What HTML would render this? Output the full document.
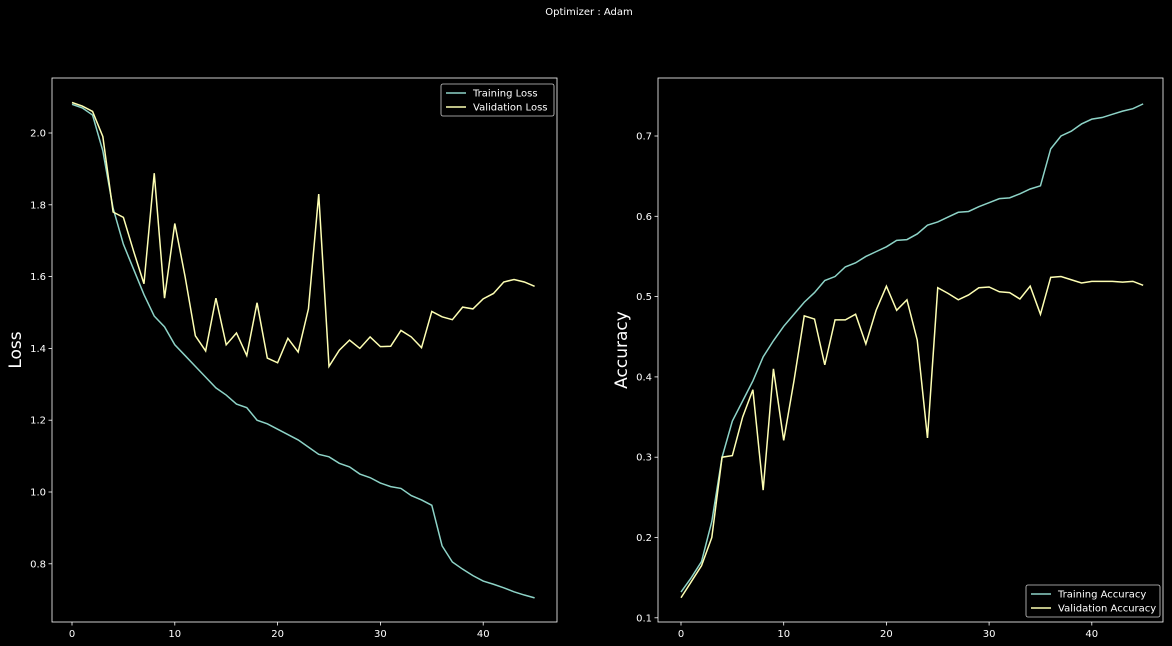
<!DOCTYPE html>
<html><head><meta charset="utf-8"><style>
html,body{margin:0;padding:0;background:#000;}
svg{display:block;font-family:"DejaVu Sans","Liberation Sans",sans-serif;}
</style></head><body>
<svg id="fig" width="1172" height="646" xmlns="http://www.w3.org/2000/svg">
<rect width="1172" height="646" fill="#000"/>
<text x="589" y="15" fill="#fff" font-size="10" text-anchor="middle">Optimizer : Adam</text>
<g id="left"></g>
<g id="right"></g>
</svg>
<script>
const epochs = Array.from({length:46},(_,i)=>i);
const trainLoss = [2.08,2.07,2.05,1.95,1.79,1.69,1.62,1.55,1.49,1.46,1.41,1.38,1.35,1.32,1.29,1.27,1.245,1.235,1.20,1.19,1.175,1.16,1.145,1.125,1.105,1.098,1.08,1.07,1.05,1.04,1.025,1.015,1.01,0.99,0.978,0.963,0.85,0.805,0.785,0.767,0.752,0.743,0.733,0.722,0.713,0.705];
const valLoss = [2.085,2.075,2.06,1.99,1.78,1.765,1.67,1.58,1.888,1.54,1.748,1.60,1.435,1.393,1.54,1.41,1.443,1.38,1.527,1.373,1.36,1.428,1.39,1.51,1.83,1.35,1.395,1.423,1.40,1.432,1.405,1.406,1.45,1.432,1.402,1.503,1.488,1.48,1.515,1.51,1.538,1.553,1.585,1.592,1.585,1.573];
const trainAcc = [0.132,0.15,0.17,0.22,0.30,0.345,0.37,0.395,0.425,0.445,0.463,0.478,0.493,0.505,0.52,0.525,0.537,0.542,0.55,0.556,0.562,0.57,0.571,0.578,0.589,0.593,0.599,0.605,0.606,0.612,0.617,0.622,0.623,0.628,0.634,0.638,0.684,0.70,0.706,0.715,0.721,0.723,0.727,0.731,0.734,0.74];
const valAcc = [0.125,0.145,0.165,0.2,0.30,0.302,0.35,0.384,0.259,0.41,0.321,0.395,0.476,0.472,0.415,0.471,0.471,0.478,0.441,0.483,0.513,0.483,0.496,0.446,0.324,0.511,0.504,0.496,0.502,0.511,0.512,0.506,0.505,0.497,0.513,0.478,0.524,0.525,0.521,0.517,0.519,0.519,0.519,0.518,0.519,0.514];
const xTicks = [0,10,20,30,40];
const lossTicks = [0.8,1.0,1.2,1.4,1.6,1.8,2.0];
const accTicks = [0.1,0.2,0.3,0.4,0.5,0.6,0.7];

const NS="http://www.w3.org/2000/svg";
function mk(tag,attrs,parent,text){const e=document.createElementNS(NS,tag);for(const k in attrs)e.setAttribute(k,attrs[k]);if(text!==undefined)e.textContent=text;parent.appendChild(e);return e;}

function chart(g,box,xs,yv,yTicks,yfmt,series,ylabel,legendPos,prefix){
  const sx=v=>box.x0px+(v-0)*box.xs;
  const sy=v=>box.y0px-(v-box.y0v)*box.ys;
  series.forEach(s=>{
    const d=s.data.map((v,i)=>(i?'L':'M')+sx(xs[i]).toFixed(2)+','+sy(v).toFixed(2)).join('');
    const p=mk('path',{d:d,fill:'none',stroke:s.color,'stroke-width':1.5},g);
    
    
  });
  const r=mk('rect',{x:box.l,y:box.t,width:box.r-box.l,height:box.b-box.t,fill:'none',stroke:'#fff','stroke-width':0.8},g);
  
  
  xTicks.forEach(t=>{
    const x=sx(t);
    mk('line',{x1:x,x2:x,y1:box.b,y2:box.b+3.5,stroke:'#fff','stroke-width':0.8},g);
    const tx=mk('text',{x:x,y:box.b+15,fill:'#fff','font-size':10,'text-anchor':'middle'},g,String(t));
    
    
  });
  yTicks.forEach(t=>{
    const y=sy(t);
    mk('line',{x1:box.l-3.5,x2:box.l,y1:y,y2:y,stroke:'#fff','stroke-width':0.8},g);
    const tx=mk('text',{x:box.l-6,y:y+3.5,fill:'#fff','font-size':10,'text-anchor':'end'},g,yfmt(t));
    
    
  });
  const yl=mk('text',{x:0,y:0,fill:'#fff','font-size':17,'text-anchor':'middle',transform:`translate(${box.l-31},${(box.t+box.b)/2}) rotate(-90)`},g,ylabel);
  
  
  const L=legendPos;
  const lg=mk('g',{},g);
  
  
  mk('rect',{x:L.x,y:L.y,width:L.w,height:32,rx:2,fill:'#000',stroke:'#ccc','stroke-width':0.8},lg);
  series.forEach((s,i)=>{
    const yy=L.y+9+i*14;
    mk('line',{x1:L.x+5,x2:L.x+25,y1:yy,y2:yy,stroke:s.color,'stroke-width':1.5},lg);
    const t=mk('text',{x:L.x+32,y:yy+3.5,fill:'#fff','font-size':10},lg,s.label);
    
    
  });
}
chart(document.getElementById('left'),
  {l:52,r:557,t:78,b:622,x0px:72,xs:10.28,y0v:2.0,y0px:133,ys:359},
  epochs,null,lossTicks,v=>v.toFixed(1),
  [{data:trainLoss,color:'#8dd3c7',name:'training-loss-line',label:'Training Loss'},
   {data:valLoss,color:'#feffb3',name:'validation-loss-line',label:'Validation Loss'}],
  'Loss',{x:441,y:84,w:113},'loss');
chart(document.getElementById('right'),
  {l:658,r:1163,t:78,b:622,x0px:681,xs:10.27,y0v:0.7,y0px:136,ys:803},
  epochs,null,accTicks,v=>v.toFixed(1),
  [{data:trainAcc,color:'#8dd3c7',name:'training-accuracy-line',label:'Training Accuracy'},
   {data:valAcc,color:'#feffb3',name:'validation-accuracy-line',label:'Validation Accuracy'}],
  'Accuracy',{x:1026,y:585,w:134},'accuracy');
</script>
</body></html>
